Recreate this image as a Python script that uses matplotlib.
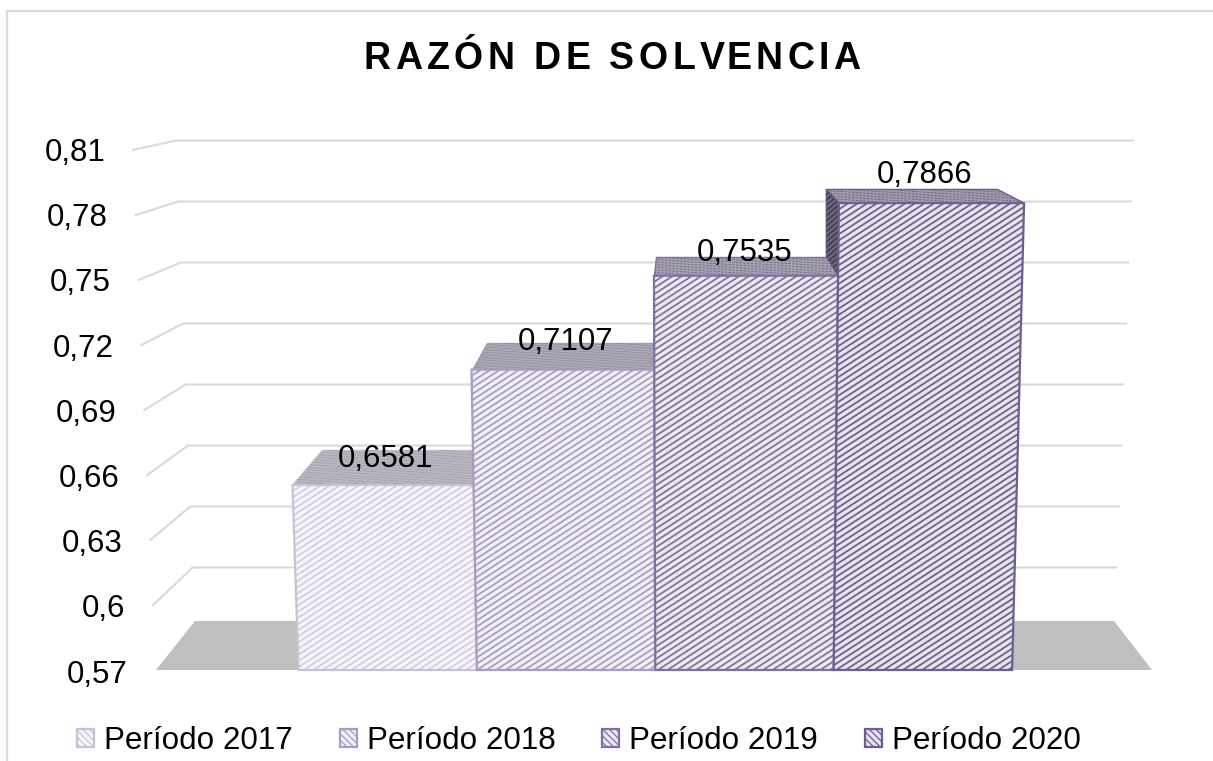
import matplotlib
matplotlib.use("Agg")
import numpy as np
import matplotlib.pyplot as plt
from matplotlib.collections import LineCollection
from matplotlib.patches import Patch, Polygon
from matplotlib.text import Text
from matplotlib.textpath import TextToPath
from matplotlib.transforms import IdentityTransform

# ---------- data ----------
title = "RAZÓN DE SOLVENCIA"
periods = ["Período 2017", "Período 2018", "Período 2019", "Período 2020"]
values = [0.6581, 0.7107, 0.7535, 0.7866]
value_labels = ["0,6581", "0,7107", "0,7535", "0,7866"]
tick_labels = ["0,81", "0,78", "0,75", "0,72", "0,69", "0,66", "0,63", "0,6", "0,57"]

# ---------- styles ----------
face_colors = ["#F7F5FB", "#F1EDF9", "#ECE6F7", "#E8E1F5"]
stripe_colors = ["#D2CEDA", "#A6A0B3", "#7C768B", "#69637A"]
edge_colors = ["#C8C1D8", "#A89CC3", "#8170A6", "#6E5E91"]
top_colors = ["#BBB8C1", "#AEAAB8", "#A5A1B0", "#9F9BAB"]
top_stripes = ["#A3A0AA", "#928E9C", "#6F6A7C", "#696478"]
label_lift = [26, 28, 23, 28]

W, H = 1213, 761
FONT = "Liberation Sans"
FS = 22.5
SCALE = 2194.0          # pixels per unit of value on the front plane
BASE_VALUE = 0.5738     # value at the front floor line
BASE_PX = 670.0
X0, STEP = 298.5, 178.4  # front floor position of the bars
LEAN, CX = 8.15e-5, 697.0
VPX, VPY, DEPTH = 675.0, 23.0, 0.924


def v2p(v):
    return BASE_PX - SCALE * (np.asarray(v, float) - BASE_VALUE)


def p2v(p):
    return BASE_VALUE + (BASE_PX - np.asarray(p, float)) / SCALE


def front_x(x, v):
    return x + (x - CX) * LEAN * (BASE_PX - v2p(v))


def back(px, py):
    return VPX + (px - VPX) * DEPTH, VPY + (py - VPY) * DEPTH


class SpacedText(Text):
    """A text object that draws with extra letter spacing."""
    gap = 4.4

    def draw(self, renderer):
        x, y = self.get_transform().transform(self.get_position())
        prop = self.get_fontproperties()
        ttp = TextToPath()
        s = self.get_text()
        k = self.figure.dpi / 72.0

        def w(t):
            return ttp.get_text_width_height_descent(t, prop, False)[0] * k if t else 0.0
        adv = [w(s[: i + 1]) - w(s[: i]) for i in range(len(s))]
        cur = x - (sum(adv) + self.gap * (len(s) - 1)) / 2
        for ch, a in zip(s, adv):
            if ch != " ":
                t = Text(cur, y, ch, fontproperties=prop, color=self.get_color(),
                         ha="left", va="baseline", transform=IdentityTransform())
                t.set_figure(self.figure)
                t.draw(renderer)
            cur += a + self.gap


def stripes(ax, poly_px, color, spacing, lw, angle, z, dash=None):
    """Fill detail: parallel lines clipped to a polygon given in pixels."""
    poly_px = np.asarray(poly_px)
    patch = Polygon(np.c_[poly_px[:, 0], p2v(poly_px[:, 1])], closed=True,
                    transform=ax.transData, fill=False, edgecolor="none")
    ax.add_patch(patch)
    t = np.radians(angle)
    d = np.array([np.cos(t), -np.sin(t)])
    n = np.array([np.sin(t), np.cos(t)])
    proj = poly_px @ n
    c = poly_px.mean(axis=0)
    L = 1500
    segs = []
    for o in np.arange(proj.min() - spacing, proj.max() + spacing, spacing):
        base = c + n * (o - c @ n)
        a, b = base - d * L, base + d * L
        segs.append([(a[0], p2v(a[1])), (b[0], p2v(b[1]))])
    lc = LineCollection(segs, colors=color, linewidths=lw, zorder=z,
                        linestyles=dash if dash else "solid")
    ax.add_collection(lc, autolim=False)
    lc.set_clip_path(patch)


plt.rcParams["hatch.linewidth"] = 0.9
fig = plt.figure(figsize=(W / 100, H / 100), dpi=100, facecolor="white")

# ---------- chart frame, walls, floor (pixel coordinates) ----------
ch = fig.add_axes([0, 0, 1, 1], zorder=1)
ch.set_xlim(0, W)
ch.set_ylim(H, 0)
ch.axis("off")
ch.plot([7, 7, W], [H, 11, 11], color="#D9D9D9", lw=1.6)
ch.add_patch(Polygon([(156, 670), (195, 621), (1114, 621), (1152, 670)],
                     closed=True, fc="#BFBFBF", ec="none"))
n_ticks = len(tick_labels)
for i, lab in enumerate(tick_labels):
    fy = 150 + 65.0 * i
    by = 140.5 + 61.0 * i
    fx = 133 + 23.0 * i / (n_ticks - 1)
    blx = 176 + 19.0 * i / (n_ticks - 1)
    brx = 1133 - 19.0 * i / (n_ticks - 1)
    if i < n_ticks - 1:
        ch.plot([fx, blx, brx], [fy, by, by], color="#D9D9D9", lw=1.5,
                solid_joinstyle="round")
    ch.text(105 + 23.0 * i / (n_ticks - 1), 153 + 65.2 * i, lab, ha="right", va="center",
            family=FONT, fontsize=FS, color="black")

t = SpacedText(612, 69, title, family=FONT, fontsize=27, fontweight="bold",
               color="black", ha="center", va="baseline", transform=ch.transData)
ch.add_artist(t)

# ---------- bars (x in floor position, y in value units) ----------
ax = fig.add_axes([0, 0, 1, 1], zorder=2)
ax.patch.set_alpha(0)
ax.set_xlim(0, W)
ax.set_ylim(p2v(H), p2v(0))
ax.axis("off")

for i, v in enumerate(values):
    xl, xr = X0 + i * STEP, X0 + (i + 1) * STEP
    tl, tr = front_x(xl, v), front_x(xr, v)
    ty = float(v2p(v))
    bl = back(tl, ty)
    br = back(tr, ty)
    z = 3 + i * 2
    ec = edge_colors[i]
    # top face
    if i == 3:
        top = [(tl, ty), (tr, ty), br, bl]
    elif i == 0:
        top = [(tl, ty), (tr, ty), (tr, bl[1]), bl]
    else:
        top = [(tl, ty), (tr, ty), (tr, bl[1]), (max(bl[0], tl), bl[1])]
    ax.fill([p[0] for p in top], p2v([p[1] for p in top]), fc=top_colors[i],
            ec=ec, lw=1.0, zorder=z)
    stripes(ax, top, top_stripes[i], 2.6, 0.6, -4, z + 0.1,
            dash=(0, (3, 1.5)) if i >= 2 else None)
    # exposed left side of the tallest bar
    if i == 3:
        pv = values[i - 1]
        py = float(v2p(pv))
        _, pby = back(front_x(xl, pv), py)
        side = [(tl, ty), (front_x(xl, pv), py), (bl[0], pby), bl]
        ax.fill([p[0] for p in side], p2v([p[1] for p in side]), fc="#6B667A",
                ec=ec, lw=1.2, zorder=z)
        stripes(ax, side, "#3F3B4C", 4.0, 1.1, 40, z + 0.1)
    # front face
    xs = [xl, xr, tr, tl]
    vs = [p2v(BASE_PX), p2v(BASE_PX), v, v]
    ax.fill(xs, vs, fc=face_colors[i], ec="none", zorder=z + 0.2)
    stripes(ax, list(zip(xs, v2p(vs))), stripe_colors[i], 5.2, 1.25, 33, z + 0.3)
    ax.fill(xs, vs, fc="none", ec=ec, lw=1.6, zorder=z + 0.4, joinstyle="miter")

    ax.text((xl + xr) / 2 + (v - 0.72) * 30 - 0.5, p2v(ty - label_lift[i]), value_labels[i],
            ha="center", va="center", family=FONT, fontsize=FS, color="black", zorder=20)

# ---------- legend ----------
handles = [Patch(facecolor=face_colors[i], edgecolor=edge_colors[i], hatch="\\\\\\\\\\", lw=1.6)
           for i in range(len(periods))]
ax.legend(handles, periods, ncol=4, loc="center", bbox_to_anchor=(579 / W, 1 - 741 / H),
          bbox_transform=fig.transFigure, frameon=False,
          prop={"family": FONT, "size": 22.6}, handlelength=0.54, handleheight=0.54,
          handletextpad=0.33, columnspacing=1.48, borderpad=0, borderaxespad=0)

fig.savefig("out.png", dpi=100)
